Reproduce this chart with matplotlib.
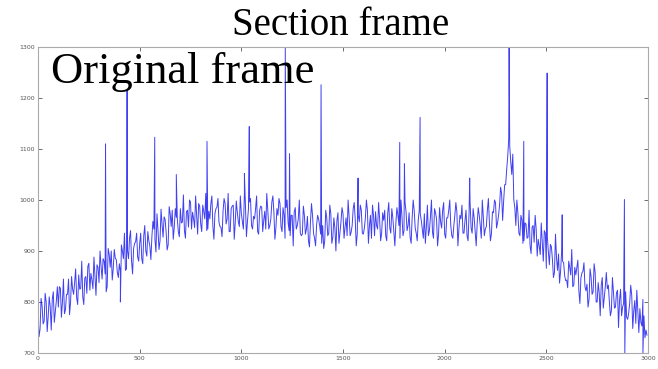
import numpy as np
import matplotlib
matplotlib.use('Agg')
import matplotlib.pyplot as plt

# 每10帧取一个读数
frames = list(range(0, 3000, 10))
values = [
    777, 747, 792, 762, 800, 772, 790, 805, 760, 802,
    790, 827, 800, 777, 815, 845, 800, 825, 838, 808,
    853, 827, 810, 847, 817, 876, 856, 826, 850, 873,
    838, 870, 885, 855, 830, 893, 900, 866, 886, 858,
    875, 912, 885, 862, 900, 925, 880, 905, 918, 888,
    915, 885, 930, 900, 938, 910, 928, 943, 898, 940,
    920, 952, 967, 937, 912, 973, 980, 946, 966, 938,
    983, 957, 940, 977, 947, 996, 976, 946, 970, 993,
    953, 990, 963, 940, 978, 993, 948, 973, 986, 956,
    946, 978, 993, 963, 938, 983, 990, 956, 976, 948,
    973, 943, 988, 958, 996, 950, 968, 983, 938, 980,
    986, 960, 943, 980, 950, 996, 976, 946, 970, 993,
    938, 970, 985, 955, 930, 970, 977, 943, 963, 935,
    933, 970, 943, 920, 958, 970, 925, 950, 963, 933,
    950, 920, 965, 935, 973, 927, 945, 960, 915, 957,
    973, 947, 930, 967, 937, 983, 963, 933, 957, 980,
    933, 965, 980, 950, 925, 970, 977, 943, 963, 935,
    960, 930, 975, 945, 983, 937, 955, 970, 925, 967,
    940, 977, 950, 927, 965, 980, 935, 960, 973, 943,
    973, 947, 930, 967, 937, 983, 963, 933, 957, 980,
    933, 965, 980, 950, 925, 970, 977, 943, 963, 935,
    960, 930, 975, 945, 983, 937, 955, 970, 925, 967,
    943, 980, 955, 934, 975, 995, 955, 990, 1013, 998,
    1030, 1085, 1105, 1050, 1000, 950, 975, 930, 960, 920,
    953, 927, 910, 947, 917, 943, 923, 893, 917, 940,
    866, 898, 913, 883, 858, 887, 894, 860, 880, 852,
    843, 880, 853, 830, 868, 867, 822, 847, 860, 830,
    835, 805, 850, 820, 858, 800, 818, 833, 788, 830,
    826, 800, 783, 820, 790, 823, 803, 773, 797, 820,
    766, 798, 813, 783, 758, 780, 787, 753, 773, 745,
]

# 中间帧（5, 15, 25, ...）的读数
frames_mid = list(range(5, 3000, 10))
values_mid = [
    732, 807, 757, 817, 742, 810, 745, 820, 780, 830,
    830, 770, 845, 785, 815, 775, 850, 815, 865, 795,
    825, 880, 795, 850, 870, 823, 843, 888, 813, 868,
    900, 845, 880, 820, 905, 868, 843, 903, 883, 848,
    860, 900, 935, 865, 885, 940, 855, 915, 935, 880,
    935, 875, 950, 890, 920, 883, 958, 923, 973, 903,
    982, 927, 962, 902, 987, 948, 923, 983, 963, 928,
    955, 1010, 925, 980, 1000, 943, 963, 1008, 933, 988,
    938, 978, 1013, 943, 963, 1008, 923, 983, 1003, 948,
    928, 1003, 953, 1013, 938, 988, 923, 998, 958, 1008,
    958, 1013, 928, 983, 1003, 943, 963, 1008, 933, 988,
    938, 978, 1013, 943, 963, 1008, 923, 983, 1003, 948,
    985, 925, 1000, 940, 970, 910, 985, 950, 1000, 930,
    988, 933, 968, 908, 993, 935, 910, 970, 950, 915,
    905, 980, 930, 990, 915, 965, 900, 975, 935, 985,
    925, 965, 1000, 930, 950, 995, 910, 970, 990, 935,
    945, 1000, 915, 970, 990, 930, 950, 995, 920, 975,
    980, 920, 995, 935, 965, 910, 985, 950, 1000, 930,
    995, 940, 975, 915, 1000, 945, 920, 980, 960, 925,
    915, 990, 940, 1000, 925, 975, 910, 985, 945, 995,
    925, 965, 1000, 930, 950, 995, 910, 970, 990, 935,
    980, 920, 995, 935, 965, 910, 985, 950, 1000, 930,
    948, 1003, 920, 977, 1000, 945, 970, 1025, 960, 1030,
    1060, 1120, 1075, 1090, 985, 1000, 935, 970, 915, 955,
    925, 980, 895, 950, 970, 890, 910, 955, 880, 935,
    928, 873, 908, 848, 933, 862, 837, 897, 877, 842,
    828, 868, 903, 833, 853, 882, 797, 857, 877, 822,
    790, 865, 815, 875, 800, 838, 773, 848, 808, 858,
    833, 773, 848, 788, 818, 750, 825, 790, 840, 770,
    778, 833, 748, 803, 823, 740, 760, 805, 730, 735,
]

# 尖峰（帧号，峰值）
spike_x = [332, 405, 438, 574, 680, 831, 1015, 1039, 1216, 1237, 1392,
           1574, 1779, 1802, 1879, 2123, 2317, 2389, 2504, 2578, 2884,
           2886, 2975]
spike_y = [1110, 800, 1215, 1123, 1050, 1115, 1052, 1144, 1300, 1091, 1226,
           1043, 1113, 1071, 1162, 1043, 1300, 1115, 1249, 971, 1001,
           700, 700]

# 合并并按帧号排序
x = np.array(frames + frames_mid + spike_x)
y = np.array(values + values_mid + spike_y)
order = np.argsort(x, kind='stable')
x, y = x[order], y[order]

plt.rcParams['font.family'] = ['DejaVu Sans']
fig = plt.figure(figsize=(6.58, 3.69), dpi=100)
ax = fig.add_axes([0.0578, 0.0434, 0.927, 0.8292])

ax.plot(x, y, color='#0000ee', linewidth=0.7, alpha=0.75)

ax.set_xlim(0, 3000)
ax.set_ylim(700, 1300)
ax.set_xticks(range(0, 3001, 500))
ax.set_yticks(range(700, 1301, 100))
ax.tick_params(direction='in', top=True, right=True, labelsize=4.5,
               colors='#555555', length=3, width=0.6, pad=2)
for s in ax.spines.values():
    s.set_color('#aaaaaa')
    s.set_linewidth(0.8)

fig.text(0.518, 0.905, 'Section frame', ha='center', va='baseline',
         fontsize=28, family='Liberation Serif')
ax.text(0.022, 0.882, 'Original frame', transform=ax.transAxes,
        ha='left', va='baseline', fontsize=32, family='Liberation Serif')

fig.savefig('out.png', dpi=100)
